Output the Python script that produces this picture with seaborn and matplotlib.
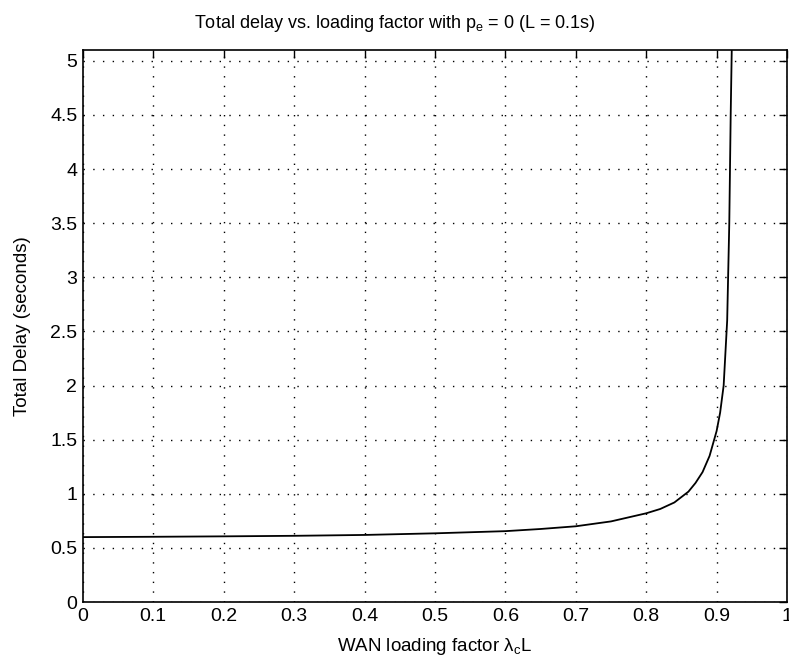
"""Total delay vs. WAN loading factor (MATLAB-style line chart)."""

import matplotlib
matplotlib.use("Agg")
import matplotlib.pyplot as plt
import pandas as pd
import seaborn as sns

# curve
load_factor = [0.0, 0.1, 0.2, 0.3, 0.4, 0.5, 0.6, 0.65, 0.7, 0.75, 0.8,
               0.82, 0.84, 0.86, 0.87, 0.88, 0.89, 0.9, 0.905, 0.91,
               0.915, 0.918, 0.92, 0.922]
total_delay = [0.60, 0.603, 0.607, 0.612, 0.62, 0.635, 0.655, 0.675, 0.70,
               0.745, 0.82, 0.86, 0.92, 1.02, 1.10, 1.20, 1.35, 1.58, 1.75,
               2.0, 2.6, 3.5, 4.5, 5.3]

x_ticks = [0, 0.1, 0.2, 0.3, 0.4, 0.5, 0.6, 0.7, 0.8, 0.9, 1]
x_tick_labels = ["0", "0.1", "0.2", "0.3", "0.4", "0.5", "0.6", "0.7", "0.8", "0.9", "1"]
y_ticks = [0, 0.5, 1, 1.5, 2, 2.5, 3, 3.5, 4, 4.5, 5]
y_tick_labels = ["0", "0.5", "1", "1.5", "2", "2.5", "3", "3.5", "4", "4.5", "5"]


def main() -> None:
    sns.set_theme(style="white")
    plt.rcParams["font.family"] = ["Liberation Sans", "DejaVu Sans"]
    plt.rcParams["mathtext.fontset"] = "custom"
    plt.rcParams["mathtext.rm"] = "Liberation Sans"
    plt.rcParams["mathtext.it"] = "Liberation Sans"

    df = pd.DataFrame({"load": load_factor, "delay": total_delay})

    fig = plt.figure(figsize=(7.89, 6.66), dpi=100)
    ax = fig.add_axes([0.105, 0.096, 0.8925, 0.829])
    sns.lineplot(data=df, x="load", y="delay", color="black", linewidth=1.3,
                 estimator=None, sort=False, ax=ax)

    ax.set_xlim(0, 1)
    ax.set_ylim(0, 5.1)
    ax.set_xticks(x_ticks)
    ax.set_xticklabels(x_tick_labels)
    ax.set_yticks(y_ticks)
    ax.set_yticklabels(y_tick_labels)
    ax.tick_params(direction="in", top=True, right=True, length=6, width=1,
                   color="black", labelsize=14, labelcolor="black", pad=4)
    ax.grid(True, color="black", linestyle=(0, (1, 6)), linewidth=1)
    for sp in ax.spines.values():
        sp.set_color("black")
        sp.set_linewidth(1.2)

    ax.set_xlabel("WAN loading factor λ$_\\mathrm{c}$L", fontsize=13.5,
                  color="black", labelpad=8)
    ax.set_ylabel("Total Delay (seconds)", fontsize=13.5, color="black", labelpad=14)
    fig.text(0.5, 0.965, "Total delay vs. loading factor with p$_\\mathrm{e}$ = 0 (L = 0.1s)",
             ha="center", va="center", fontsize=13, color="black")

    fig.savefig("out.png", dpi=100, facecolor="white")
    plt.close(fig)


if __name__ == "__main__":
    main()
